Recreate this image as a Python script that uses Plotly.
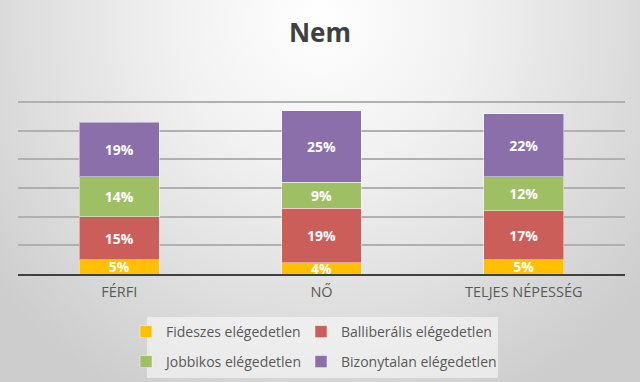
import plotly.graph_objects as go
import base64

categories = ["FÉRFI", "NŐ", "TELJES NÉPESSÉG"]
series_names = ["Fideszes elégedetlen", "Balliberális elégedetlen",
                "Jobbikos elégedetlen", "Bizonytalan elégedetlen"]
fideszes = [5, 4, 5]
balliberalis = [15, 19, 17]
jobbikos = [14, 9, 12]
bizonytalan = [19, 25, 22]
colors = ["#FFC000", "#CC5E5A", "#9FBF65", "#8A6FAB"]

W, H = 640, 382
L, R, T, B = 18, 15, 101, 108
pw, ph = W - L - R, H - T - B

def px_to_paper_x(px):
    return (px - L) / pw

def px_to_paper_y(py):
    return (H - B - py) / ph

fig = go.Figure()
series = [fideszes, balliberalis, jobbikos, bizonytalan]
legends = ["legend", "legend", "legend2", "legend2"]
lwidths = [130, 175, 130, 175]
for name, vals, col, lg, lw in zip(series_names, series, colors, legends, lwidths):
    fig.add_trace(go.Bar(
        x=categories, y=vals, name=name,
        marker=dict(color=col, line=dict(color="rgba(255,255,255,0.45)", width=1)),
        text=[f"{v}%" for v in vals],
        textposition="inside", insidetextanchor="middle", constraintext="none",
        textfont=dict(family="Open Sans", size=14, color="white", weight="bold"),
        legend=lg, legendwidth=lw, hoverinfo="skip",
    ))

svg = f'''<svg xmlns="http://www.w3.org/2000/svg" width="{W}" height="{H}" viewBox="0 0 {W} {H}" preserveAspectRatio="none">
<defs><radialGradient id="g" cx="320" cy="20" r="420" gradientUnits="userSpaceOnUse">
<stop offset="0" stop-color="#ffffff"/><stop offset="0.35" stop-color="#f1f1f1"/>
<stop offset="0.7" stop-color="#dedede"/><stop offset="1" stop-color="#cdcdcd"/></radialGradient></defs>
<rect x="0" y="0" width="{W}" height="{H}" fill="url(#g)"/></svg>'''
src = "data:image/svg+xml;base64," + base64.b64encode(svg.encode()).decode()

leg_common = dict(orientation="h", xanchor="left", yanchor="middle",
                  entrywidthmode="pixels", bgcolor="rgba(0,0,0,0)",
                  font=dict(size=14, color="#595959"), traceorder="normal")

fig.update_layout(
    width=W, height=H,
    margin=dict(l=L, r=R, t=T, b=B, autoexpand=False),
    barmode="stack", bargap=0.605,
    paper_bgcolor="#e6e6e6", plot_bgcolor="rgba(0,0,0,0)",
    font=dict(family="Open Sans", color="#595959"),
    title=dict(text="<b>Nem</b>", x=0.5, xref="container", y=1 - 33 / H,
               yref="container", yanchor="middle", xanchor="center",
               font=dict(family="Open Sans", size=26, color="#404040")),
    xaxis=dict(showline=True, linecolor="#404040", linewidth=2, showgrid=False,
               ticks="", tickfont=dict(size=14.5, color="#595959"), ticklabelstandoff=4),
    yaxis=dict(range=[0, 60.4], tickvals=[10, 20, 30, 40, 50, 60], showticklabels=False,
               showgrid=True, gridcolor="#b0b0b0", gridwidth=1.5, zeroline=False),
    legend=dict(x=px_to_paper_x(126), y=px_to_paper_y(332), **leg_common),
    legend2=dict(x=px_to_paper_x(126), y=px_to_paper_y(362), **leg_common),
    images=[dict(source=src, xref="paper", yref="paper",
                 x=px_to_paper_x(0), y=px_to_paper_y(0),
                 sizex=W / pw, sizey=H / ph, sizing="stretch",
                 xanchor="left", yanchor="top", layer="below")],
    shapes=[dict(type="rect", xref="paper", yref="paper",
                 x0=px_to_paper_x(147), x1=px_to_paper_x(498),
                 y0=px_to_paper_y(378), y1=px_to_paper_y(317),
                 fillcolor="rgba(250,250,250,0.6)", line=dict(width=0), layer="below")],
)

fig.write_html("out.html", config={"displayModeBar": False},
               post_script="document.body.style.margin='0';document.body.style.overflow='hidden';")
